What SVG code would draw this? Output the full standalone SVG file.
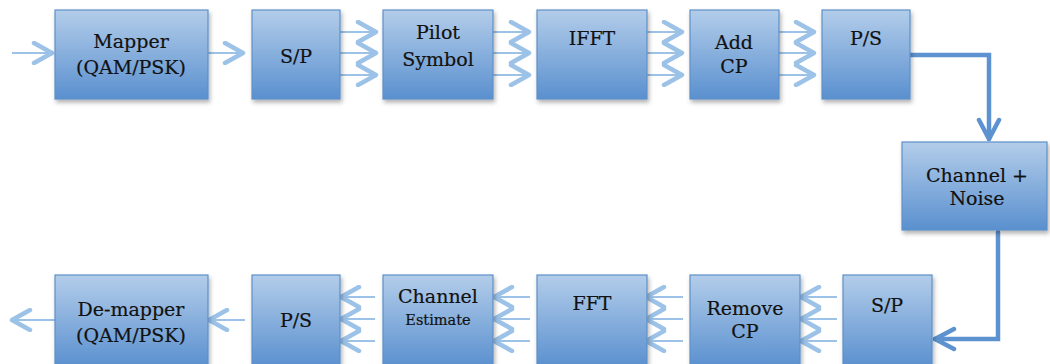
<svg xmlns="http://www.w3.org/2000/svg" width="1050" height="364" viewBox="0 0 1050 364">
<defs>
<linearGradient id="g" x1="0" y1="0" x2="0" y2="1">
<stop offset="0" stop-color="#b3cdea"/>
<stop offset="1" stop-color="#5a90cf"/>
</linearGradient>
<filter id="sh" x="-10%" y="-10%" width="130%" height="130%">
<feDropShadow dx="1.5" dy="3" stdDeviation="2" flood-color="#000" flood-opacity="0.3"/>
</filter>
<marker id="ah" viewBox="0 0 24 24" refX="21" refY="12" markerWidth="24" markerHeight="24" markerUnits="userSpaceOnUse" orient="auto">
<path d="M3 2 L21 12 L3 22" fill="none" stroke="#9cc2e8" stroke-width="4.5" stroke-linecap="round" stroke-linejoin="round"/>
</marker>
<marker id="ahd" viewBox="0 0 26 26" refX="23" refY="13" markerWidth="26" markerHeight="26" markerUnits="userSpaceOnUse" orient="auto">
<path d="M4 3 L23 13 L4 23" fill="none" stroke="#5d92d0" stroke-width="4.5" stroke-linecap="round" stroke-linejoin="round"/>
</marker>
</defs>
<style>
.box{fill:url(#g);stroke:#5d90c9;stroke-width:1.2;filter:url(#sh)}
.t{font-family:"DejaVu Serif","Liberation Serif",serif;font-size:19px;fill:#111;stroke:#111;stroke-width:0.2;text-anchor:middle}
.s{font-size:14.5px}
.a{stroke:#9cc2e8;stroke-width:2.2;fill:none;marker-end:url(#ah)}
.d{stroke:#5d92d0;stroke-width:4.5;fill:none;stroke-linecap:round;stroke-linejoin:miter;marker-end:url(#ahd)}
</style>
<rect width="1050" height="364" fill="#fff"/>
<g id="connectors">
<line class="a" x1="12" y1="53" x2="52" y2="53"/>
<line class="a" x1="208" y1="53" x2="243" y2="53"/>
<line class="a" x1="340" y1="32" x2="376" y2="32"/>
<line class="a" x1="340" y1="53" x2="376" y2="53"/>
<line class="a" x1="340" y1="75" x2="376" y2="75"/>
<line class="a" x1="492" y1="32" x2="529" y2="32"/>
<line class="a" x1="487" y1="53" x2="529" y2="53"/>
<line class="a" x1="487" y1="75" x2="529" y2="75"/>
<line class="a" x1="645" y1="32" x2="682" y2="32"/>
<line class="a" x1="640" y1="53" x2="682" y2="53"/>
<line class="a" x1="640" y1="75" x2="682" y2="75"/>
<line class="a" x1="778" y1="32" x2="814" y2="32"/>
<line class="a" x1="773" y1="53" x2="814" y2="53"/>
<line class="a" x1="772" y1="75" x2="814" y2="75"/>
<path class="d" d="M902 55 H989 V139"/>
<path class="d" d="M998 232 V339 H935"/>
<line class="a" x1="837" y1="297" x2="801" y2="297"/>
<line class="a" x1="837" y1="319" x2="801" y2="319"/>
<line class="a" x1="837" y1="341" x2="801" y2="341"/>
<line class="a" x1="683" y1="297" x2="646" y2="297"/>
<line class="a" x1="683" y1="319" x2="646" y2="319"/>
<line class="a" x1="683" y1="341" x2="646" y2="341"/>
<line class="a" x1="530" y1="297" x2="494" y2="297"/>
<line class="a" x1="530" y1="319" x2="494" y2="319"/>
<line class="a" x1="530" y1="341" x2="494" y2="341"/>
<line class="a" x1="375" y1="297" x2="341" y2="297"/>
<line class="a" x1="375" y1="319" x2="341" y2="319"/>
<line class="a" x1="375" y1="341" x2="341" y2="341"/>
<line class="a" x1="245" y1="320" x2="209" y2="320"/>
<line class="a" x1="55" y1="320" x2="12" y2="320"/>
</g>
<g id="mapper"><rect class="box" x="55" y="10" width="153" height="89"/><text class="t" x="131" y="48">Mapper</text><text class="t" x="131" y="74">(QAM/PSK)</text></g>
<g id="sp1"><rect class="box" x="252" y="10" width="88" height="89"/><text class="t" x="296" y="63">S/P</text></g>
<g id="pilot"><rect class="box" x="383" y="10" width="110" height="89"/><text class="t" x="438" y="39">Pilot</text><text class="t" x="438" y="66">Symbol</text></g>
<g id="ifft"><rect class="box" x="537" y="10" width="110" height="89"/><text class="t" x="592" y="45">IFFT</text></g>
<g id="addcp"><rect class="box" x="690" y="10" width="89" height="89"/><text class="t" x="734" y="49">Add</text><text class="t" x="734" y="73">CP</text></g>
<g id="ps1"><rect class="box" x="822" y="10" width="88" height="89"/><text class="t" x="866" y="45">P/S</text></g>
<g id="channel"><rect class="box" x="902" y="142" width="145" height="88"/><text class="t" x="977" y="182">Channel +</text><text class="t" x="977" y="205">Noise</text></g>
<g id="sp2"><rect class="box" x="843" y="275" width="89" height="92"/><text class="t" x="887" y="312">S/P</text></g>
<g id="removecp"><rect class="box" x="690" y="275" width="110" height="92"/><text class="t" x="745" y="315">Remove</text><text class="t" x="745" y="338">CP</text></g>
<g id="fft"><rect class="box" x="537" y="275" width="110" height="92"/><text class="t" x="592" y="310">FFT</text></g>
<g id="chest"><rect class="box" x="383" y="275" width="110" height="92"/><text class="t" x="438" y="303">Channel</text><text class="t s" x="438" y="325">Estimate</text></g>
<g id="ps2"><rect class="box" x="252" y="275" width="88" height="92"/><text class="t" x="296" y="327">P/S</text></g>
<g id="demapper"><rect class="box" x="55" y="275" width="153" height="92"/><text class="t" x="131" y="316">De-mapper</text><text class="t" x="131" y="342">(QAM/PSK)</text></g>
</svg>
